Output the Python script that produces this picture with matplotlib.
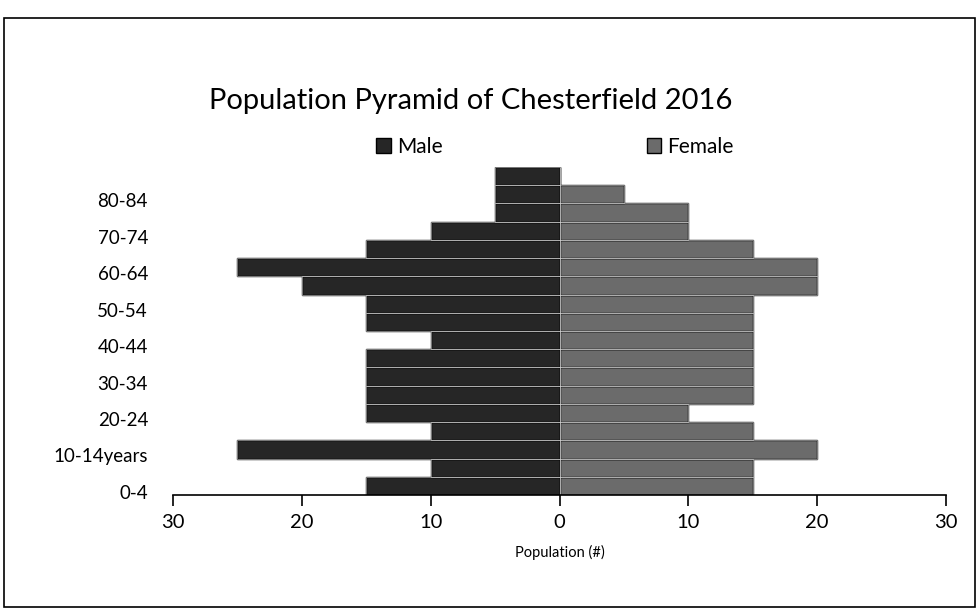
import matplotlib
matplotlib.use("Agg")
import matplotlib.pyplot as plt
import matplotlib.transforms as mtransforms
from matplotlib.patches import Rectangle
import numpy as np

age_groups = ["0-4", "5-9", "10-14years", "15-19", "20-24", "25-29", "30-34", "35-39",
              "40-44", "45-49", "50-54", "55-59", "60-64", "65-69", "70-74", "75-79",
              "80-84", "85-89"]
male = [15, 10, 25, 10, 15, 15, 15, 15, 10, 15, 15, 20, 25, 15, 10, 5, 5, 5]
female = [15, 15, 20, 15, 10, 15, 15, 15, 15, 15, 15, 20, 20, 15, 10, 10, 5, 0]
x_ticks = [-30, -20, -10, 0, 10, 20, 30]
x_tick_labels = ["30", "20", "10", "0", "10", "20", "30"]

plt.rcParams['font.family'] = ['Lato', 'DejaVu Sans']

W, H = 977, 610
fig = plt.figure(figsize=(W / 100, H / 100), dpi=100)
fig.patch.set_facecolor("white")

# outer chart frame
fig.patches.append(Rectangle((4 / W, 1 - 607 / H), 971 / W, (607 - 18) / H,
                             transform=fig.transFigure, fill=False,
                             edgecolor="black", linewidth=1.2))

ax = fig.add_axes([173 / W, 1 - 495 / H, (946 - 173) / W, (495 - 167) / H])
y = np.arange(len(age_groups))
male_col = "#262626"
female_col = "#6b6b6b"
ax.barh(y, [-m for m in male], height=1.0, color=male_col, edgecolor="black", linewidth=1.0, label="Male")
ax.barh(y, female, height=1.0, color=female_col, edgecolor="black", linewidth=1.0, label="Female")
# light separators inside bars
ax.barh(y, [-m for m in male], height=1.0, fill=False, edgecolor="#d8d8d8", linewidth=0.4)
ax.barh(y, female, height=1.0, fill=False, edgecolor="#d8d8d8", linewidth=0.4)

ax.set_xlim(-30, 30)
ax.set_ylim(-0.5, len(age_groups) - 0.5)
ax.set_xticks(x_ticks)
ax.set_xticklabels(x_tick_labels, fontsize=14.5)
ax.tick_params(axis="x", direction="out", length=8, width=1.2, pad=6)
ax.set_yticks(y[::2])
ax.set_yticklabels(age_groups[::2], fontsize=13.5)
ax.tick_params(axis="y", length=0, pad=18)
offset = mtransforms.ScaledTranslation(0, -6 / 100, fig.dpi_scale_trans)
for lbl in ax.get_yticklabels():
    lbl.set_transform(lbl.get_transform() + offset)

for s in ["top", "right", "left"]:
    ax.spines[s].set_visible(False)
ax.spines["bottom"].set_linewidth(1.2)
ax.set_xlabel("Population (#)", fontsize=10.5, labelpad=10)

fig.text(471 / W, 1 - 101 / H, "Population Pyramid of Chesterfield 2016",
         ha="center", va="center", fontsize=21)

leg = fig.legend(handles=ax.containers[:2], labels=["Male", "Female"],
                 loc="center", bbox_to_anchor=(555 / W, 1 - 147 / H), ncol=2,
                 frameon=False, fontsize=15, handlelength=0.7, handleheight=0.7,
                 handletextpad=0.3, columnspacing=9.8)

fig.savefig("out.png", dpi=100)
